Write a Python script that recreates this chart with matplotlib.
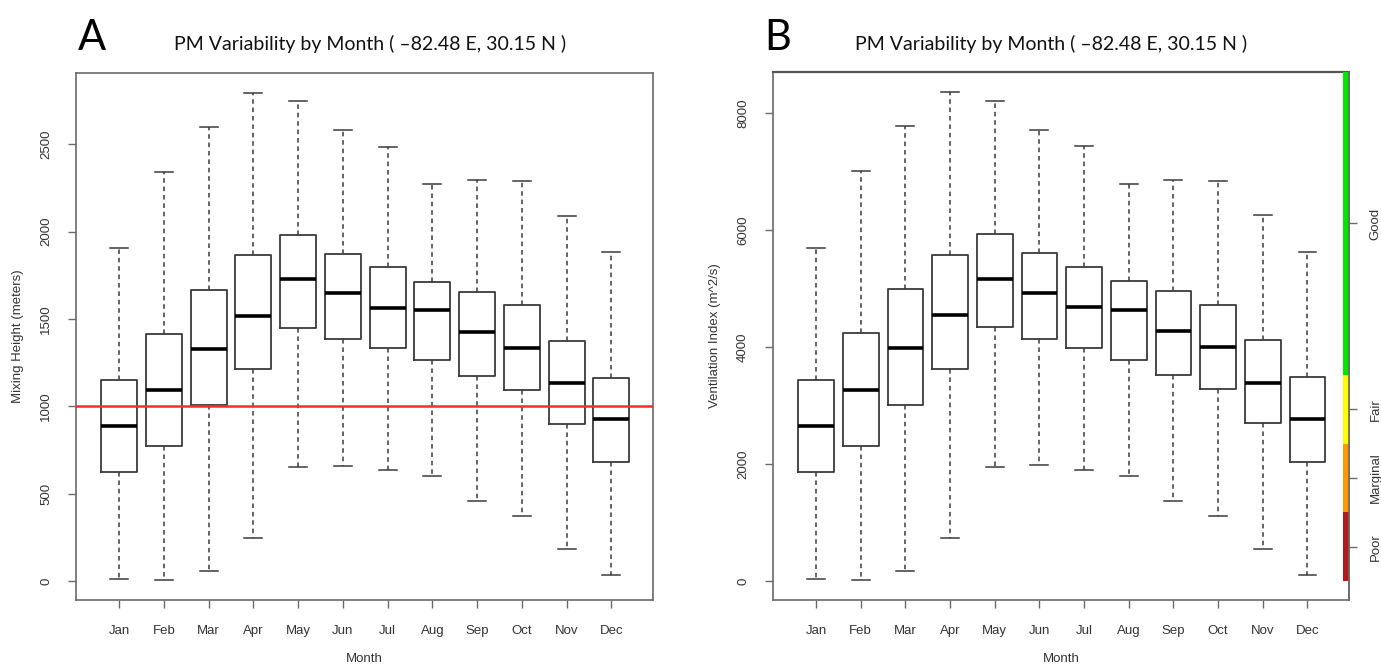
import matplotlib
matplotlib.use('Agg')
import matplotlib.pyplot as plt

plt.rcParams['font.family'] = ['Liberation Sans', 'DejaVu Sans']

# ── Data ─────────────────────────────────────────────────────────────────────
months = ['Jan', 'Feb', 'Mar', 'Apr', 'May', 'Jun',
          'Jul', 'Aug', 'Sep', 'Oct', 'Nov', 'Dec']

# Mixing height (m): whisker low, Q1, median, Q3, whisker high
mix_low  = [13, 3, 57, 246, 650, 661, 637, 600, 460, 371, 184, 36]
mix_q1   = [625, 770, 1005, 1213, 1448, 1384, 1332, 1265, 1176, 1095, 901, 683]
mix_med  = [885, 1091, 1330, 1519, 1727, 1646, 1565, 1551, 1426, 1336, 1133, 928]
mix_q3   = [1151, 1413, 1667, 1864, 1979, 1873, 1796, 1713, 1657, 1579, 1376, 1164]
mix_high = [1904, 2342, 2599, 2796, 2746, 2580, 2486, 2270, 2293, 2287, 2091, 1881]
mix_threshold = 1000

# Ventilation index (m^2/s)
vent_low  = [38, 9, 171, 741, 1945, 1980, 1906, 1797, 1375, 1109, 551, 108]
vent_q1   = [1870, 2304, 3012, 3630, 4338, 4143, 3986, 3785, 3520, 3278, 2696, 2044]
vent_med  = [2648, 3271, 3981, 4546, 5169, 4927, 4684, 4643, 4270, 3998, 3392, 2776]
vent_q3   = [3445, 4236, 4997, 5578, 5930, 5608, 5375, 5128, 4967, 4725, 4119, 3485]
vent_high = [5705, 7014, 7780, 8374, 8218, 7724, 7440, 6800, 6863, 6851, 6258, 5636]

# Ventilation categories (lower bounds) and colours
vi_classes = ['Poor', 'Marginal', 'Fair', 'Good']
vi_lower   = [0, 1175, 2350, 3525]
vi_colors  = ['#b01c1c', '#ff9900', '#ffff00', '#00e600']

title_txt = 'PM Variability by Month ( \u201382.48 E, 30.15 N )'

W, H = 1381, 666
fig = plt.figure(figsize=(W / 100, H / 100), dpi=100)

ax_a = fig.add_axes([75.7 / W, 66 / H, 577.3 / W, 527 / H])
ax_b = fig.add_axes([772.7 / W, 66 / H, 576.3 / W, 528 / H])

C_LINE = '#3a3a3a'
C_FRAME = '#6a6a6a'


def make_stats(lo, q1, med, q3, hi):
    return [dict(whislo=a, q1=b, med=c, q3=d, whishi=e, fliers=[])
            for a, b, c, d, e in zip(lo, q1, med, q3, hi)]


def r_boxplot(ax, stats, lo, hi, yticks, ylabel):
    pos = list(range(1, len(stats) + 1))
    ax.bxp(stats, positions=pos, widths=0.8, capwidths=0.4, showfliers=False,
           boxprops=dict(color=C_LINE, lw=1.3),
           whiskerprops=dict(color=C_LINE, lw=1.1, linestyle=(0, (3, 2.5))),
           capprops=dict(color=C_LINE, lw=1.1),
           medianprops=dict(color='black', lw=2.6, solid_capstyle='butt'))
    rng = max(hi) - min(lo)
    ax.set_ylim(min(lo) - 0.04 * rng, max(hi) + 0.04 * rng)
    ax.set_xlim(0.03, 12.93)
    ax.set_xticks(pos)
    ax.set_xticklabels(months, fontsize=9.5, color='#333333')
    ax.set_yticks(yticks)
    ax.set_yticklabels([str(t) for t in yticks], fontsize=9.5, color='#333333',
                       rotation=90, va='center', ha='right')
    ax.tick_params(axis='both', direction='out', length=6, width=1,
                   color=C_FRAME)
    ax.tick_params(axis='x', pad=12)
    ax.tick_params(axis='y', pad=11)
    for s in ax.spines.values():
        s.set_color(C_FRAME)
        s.set_linewidth(1.2)
    bb = ax.get_position()
    fig.text(bb.x0 - 58 / W, (bb.y0 + bb.y1) / 2, ylabel, rotation=90,
             ha='center', va='center', fontsize=9.5, color='#333333')
    fig.text((bb.x0 + bb.x1) / 2, 1 - 659 / H, 'Month',
             ha='center', va='center', fontsize=9.5, color='#333333')


# ── Panel A: mixing height ──────────────────────────────────────────────────
r_boxplot(ax_a, make_stats(mix_low, mix_q1, mix_med, mix_q3, mix_high),
          mix_low, mix_high, [0, 500, 1000, 1500, 2000, 2500],
          'Mixing Height (meters)')
ax_a.axhline(mix_threshold, color='#ff2a2a', lw=1.8, zorder=4)

# ── Panel B: ventilation index ──────────────────────────────────────────────
r_boxplot(ax_b, make_stats(vent_low, vent_q1, vent_med, vent_q3, vent_high),
          vent_low, vent_high, [0, 2000, 4000, 6000, 8000],
          'Ventilation Index (m^2/s)')
ytop = ax_b.get_ylim()[1]
vi_upper = vi_lower[1:] + [ytop]
ax_b.bar([12.79] * 4, [u - l for l, u in zip(vi_lower, vi_upper)],
         bottom=vi_lower, width=12.93 - 12.79, align='edge',
         color=vi_colors, linewidth=0, zorder=3)
ax_b.spines['top'].set_color('#555555')
ax_b.spines['top'].set_linewidth(1.6)

ax_r = ax_b.twinx()
ax_r.set_ylim(ax_b.get_ylim())
ax_r.set_yticks([(l + u) / 2 for l, u in zip(vi_lower, vi_upper)])
ax_r.set_yticklabels(vi_classes, rotation=90, va='center', ha='left',
                     fontsize=9.5, color='#333333')
ax_r.tick_params(axis='y', direction='out', length=6, width=1,
                 color=C_FRAME, pad=9)
for k, s in ax_r.spines.items():
    s.set_visible(k == 'right')
    s.set_color(C_FRAME)
    s.set_linewidth(1.2)

# ── Panel letters and titles ────────────────────────────────────────────────
for x_letter, letter, x_title in [(92, 'A', 370), (778, 'B', 1051)]:
    fig.text(x_letter / W, 1 - 38 / H, letter, ha='center', va='center',
             fontsize=30, family='Lato', color='black')
    fig.text(x_title / W, 1 - 44 / H, title_txt, ha='center', va='center',
             fontsize=14, family='Lato', color='#111111')

fig.savefig('out.png', dpi=100, facecolor='white')
plt.close(fig)
